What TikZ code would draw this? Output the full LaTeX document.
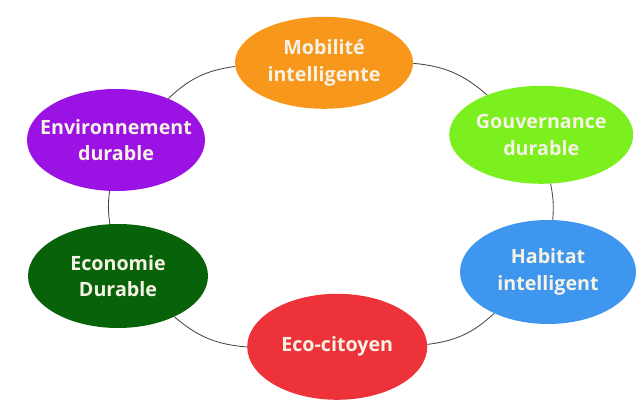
\documentclass[tikz,border=0pt]{standalone}
\usepackage{fontspec}
\setmainfont{Open Sans}
\usepackage{xcolor}
\usepackage{tikz}
\usetikzlibrary{positioning, shapes.geometric}

\definecolor{mobcol}{RGB}{247,152,29}
\definecolor{envcol}{RGB}{155,18,228}
\definecolor{govcol}{RGB}{124,240,30}
\definecolor{habcol}{RGB}{62,150,238}
\definecolor{ecocol}{RGB}{238,50,58}
\definecolor{econcol}{RGB}{8,98,10}
\definecolor{txtcol}{RGB}{246,242,228}
\definecolor{linkcol}{RGB}{70,70,70}

\tikzset{
  bubble/.style={ellipse, inner sep=0pt, draw=none},
  lbl/.style={align=center, text=txtcol, font=\fontsize{14}{19}\selectfont\bfseries},
  link/.style={draw=linkcol, line width=0.6pt}
}

\begin{document}
\begin{tikzpicture}
      \useasboundingbox (0,0) rectangle (15.975,10);

      % Bubbles
      \node[bubble, fill=mobcol, minimum width=4.45cm, minimum height=2.3cm] (mob) at (8.10,8.43) {};
      \node[bubble, fill=govcol, minimum width=4.6cm, minimum height=2.45cm] (gov) at (13.53,6.63) {};
      \node[bubble, fill=habcol, minimum width=4.4cm, minimum height=2.6cm] (hab) at (13.70,3.20) {};
      \node[bubble, fill=ecocol, minimum width=4.5cm, minimum height=2.65cm] (eco) at (8.43,1.33) {};
      \node[bubble, fill=econcol, minimum width=4.5cm, minimum height=2.6cm] (econ) at (2.95,3.10) {};
      \node[bubble, fill=envcol, minimum width=4.45cm, minimum height=2.55cm] (env) at (2.90,6.50) {};

      % Labels
      \node[lbl] (mobtxt) at (mob) {Mobilité\\intelligente};
      \node[lbl] (govtxt) at (gov) {Gouvernance\\durable};
      \node[lbl] (habtxt) at (hab) {Habitat\\intelligent};
      \node[lbl] (ecotxt) at (eco) {Eco-citoyen};
      \node[lbl] (econtxt) at (econ) {Economie\\Durable};
      \node[lbl] (envtxt) at (env) {Environnement\\durable};

      % Ring
      \draw[link] (mob) to[bend left=18] (gov);
      \draw[link] (gov) to[bend left=8] (hab);
      \draw[link] (hab) to[bend left=18] (eco);
      \draw[link] (eco) to[bend left=18] (econ);
      \draw[link] (econ) to[bend left=8] (env);
      \draw[link] (env) to[bend left=18] (mob);
\end{tikzpicture}
\end{document}
